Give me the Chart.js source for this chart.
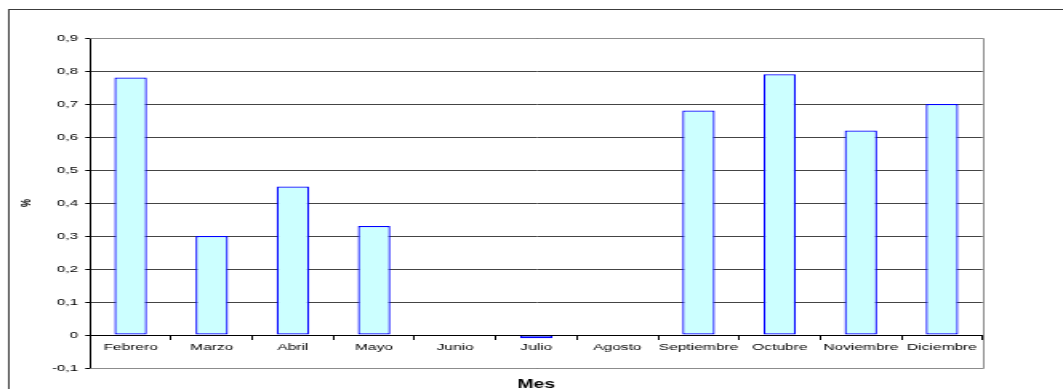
<!DOCTYPE html>
<html>
<head>
<meta charset="utf-8">
<script src="https://cdn.jsdelivr.net/npm/chart.js@4/dist/chart.umd.min.js"></script>
<style>
  html, body { margin: 0; padding: 0; background: #fff; overflow: hidden; }
  #chart { display: block; width: 1063px; height: 389px; }
</style>
</head>
<body>
<!-- the bitmap is narrower than its box, so the drawing is widened like the original sheet export -->
<canvas id="chart" width="664" height="389" style="width:1063px;height:389px"></canvas>
<script>
// Monthly variation (%)
const months = ['Febrero', 'Marzo', 'Abril', 'Mayo', 'Junio', 'Julio', 'Agosto',
                'Septiembre', 'Octubre', 'Noviembre', 'Diciembre'];
const percent = [0.78, 0.30, 0.45, 0.33, null, -0.01, null, 0.68, 0.79, 0.62, 0.70];

const yTickValues = [-0.1, 0, 0.1, 0.2, 0.3, 0.4, 0.5, 0.6, 0.7, 0.8, 0.9];
const yTickLabels = ['-0,1', '0', '0,1', '0,2', '0,3', '0,4', '0,5', '0,6', '0,7', '0,8', '0,9'];

const xTitle = 'Mes';
const yTitle = '%';

const FONT = 'Liberation Sans, Arial, sans-serif';

// white background, outer sheet border and grey plot-area frame
const framePlugin = {
  id: 'frame',
  beforeDraw(chart) {
    const ctx = chart.ctx;
    ctx.save();
    ctx.fillStyle = '#ffffff';
    ctx.fillRect(0, 0, chart.width, chart.height);
    ctx.strokeStyle = '#3c3c3c';
    ctx.lineWidth = 1;
    ctx.strokeRect(5.5, 9.5, chart.width + 20, chart.height + 20);
    ctx.restore();
  },
  beforeDatasetsDraw(chart) {
    const ctx = chart.ctx;
    const a = chart.chartArea;
    const t = Math.round(a.top) + 0.5;
    const b = Math.round(a.bottom) + 0.5;
    const r = Math.round(a.right) + 0.5;
    ctx.save();
    ctx.strokeStyle = '#8c8c8c';
    ctx.lineWidth = 1;
    ctx.beginPath();
    ctx.moveTo(a.left, t);
    ctx.lineTo(r, t);
    ctx.lineTo(r, b);
    ctx.lineTo(a.left, b);
    ctx.stroke();
    ctx.restore();
  }
};

new Chart(document.getElementById('chart'), {
  type: 'bar',
  data: {
    labels: months,
    datasets: [{
      data: percent,
      backgroundColor: '#ccffff',
      borderColor: '#0000ff',
      borderWidth: 1.25,
      borderSkipped: false,
      categoryPercentage: 1,
      barPercentage: 0.4
    }]
  },
  options: {
    responsive: false,
    animation: false,
    devicePixelRatio: 1,
    layout: { padding: { left: 0, right: 50.25, top: 38, bottom: 21 } },
    plugins: {
      legend: { display: false },
      tooltip: { enabled: false }
    },
    scales: {
      x: {
        position: { y: 0 },
        offset: true,
        grid: {
          display: true,
          offset: true,
          drawOnChartArea: false,
          drawTicks: true,
          tickLength: 4,
          color: '#000000'
        },
        border: { display: true, color: '#000000', width: 1, z: 1 },
        ticks: {
          color: '#000000',
          padding: 3,
          maxRotation: 0,
          autoSkip: false,
          font: { family: FONT, size: 9.7 }
        },
        title: {
          display: true,
          text: xTitle,
          color: '#000000',
          padding: 0,
          font: { family: FONT, size: 12, weight: 'bold' }
        },
        afterFit(scale) { scale.height = 57; }
      },
      y: {
        min: -0.1,
        max: 0.9,
        afterBuildTicks(scale) { scale.ticks = yTickValues.map(v => ({ value: v })); },
        grid: {
          color: '#444444',
          tickColor: '#000000',
          tickLength: 3,
          drawTicks: true
        },
        border: { display: true, color: '#000000', width: 1 },
        ticks: {
          color: '#000000',
          padding: 4.5,
          font: { family: FONT, size: 9.5 },
          callback(value, index) { return yTickLabels[index]; }
        },
        title: {
          display: true,
          text: yTitle,
          color: '#000000',
          padding: { top: 11.5, bottom: 0 },
          font: { family: FONT, size: 9, weight: 'bold' }
        },
        afterFit(scale) { scale.width = 56.25; }
      }
    }
  },
  plugins: [framePlugin]
});
</script>
</body>
</html>
